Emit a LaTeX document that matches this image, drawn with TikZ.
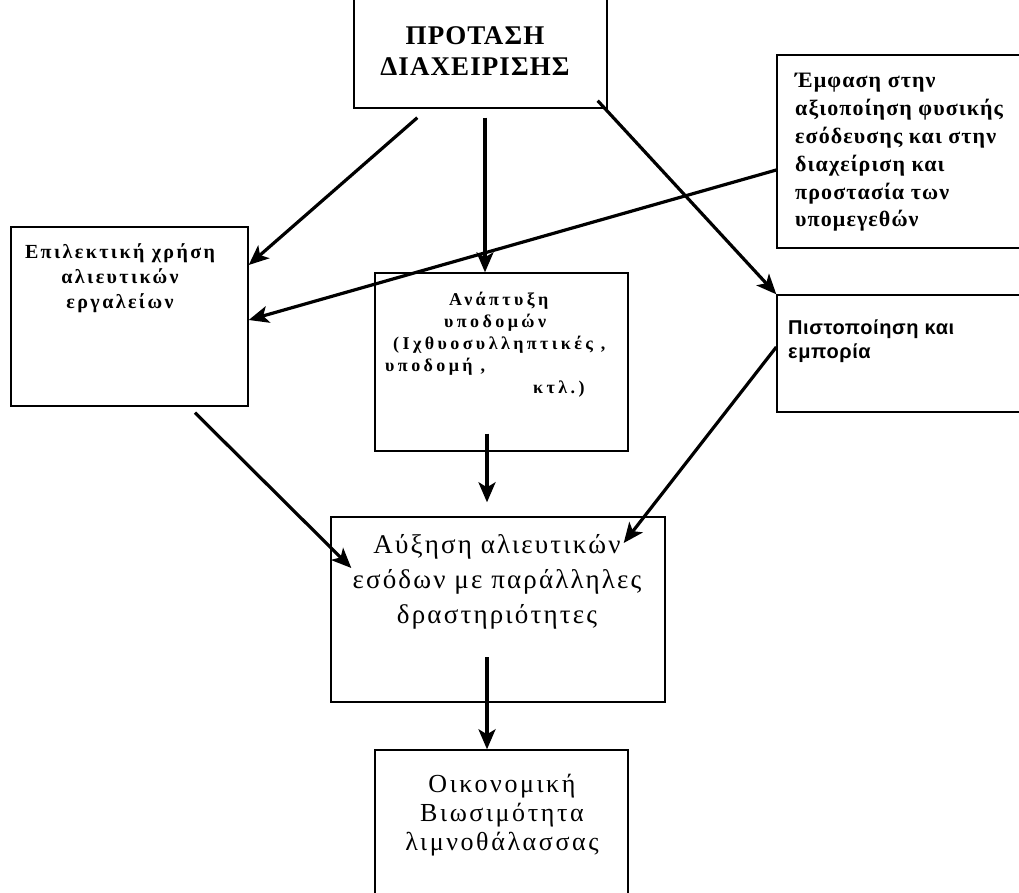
\documentclass[tikz,border=0pt]{standalone}
\usepackage{fontspec}
\setmainfont{Liberation Serif}
\newfontfamily\grsans{Liberation Sans}
\usetikzlibrary{arrows.meta,calc}
\begin{document}
\begin{tikzpicture}[x=1pt,y=-1pt,
  box/.style={draw, line width=1.4pt, rectangle, inner sep=0pt},
  arr/.style={line width=3.2pt, -{Stealth[length=20pt,width=17pt,inset=5pt]}},
  lbl/.style={inner sep=0pt, align=center}]
\useasboundingbox (0,0) rectangle (1019,893);
\clip (0,0) rectangle (1019,893);
% boxes
\node[box, minimum width=253pt, minimum height=168pt] (top) at (480.5,24) {};
\node[box, minimum width=263pt, minimum height=193pt] (emf) at (908.5,151.5) {};
\node[box, minimum width=237pt, minimum height=179pt] (left) at (129.5,316.5) {};
\node[box, minimum width=253pt, minimum height=178pt] (anap) at (501.5,362) {};
\node[box, minimum width=263pt, minimum height=117pt] (pist) at (908.5,353.5) {};
\node[box, minimum width=334pt, minimum height=185pt] (afx) at (498,609.5) {};
\node[box, minimum width=253pt, minimum height=170pt] (oik) at (501.5,835) {};
% texts
\node[lbl, font=\fontsize{27}{31}\selectfont\bfseries\addfontfeatures{LetterSpace=4}] (ttop) at (475,51.5) {ΠΡΟΤΑΣΗ\\ΔΙΑΧΕΙΡΙΣΗΣ};
\node[lbl, align=left, anchor=west, font=\fontsize{22}{27.8}\selectfont\bfseries\addfontfeatures{LetterSpace=5}] (temf) at (795,152.5)
  {Έμφαση στην\\αξιοποίηση φυσικής\\εσόδευσης και στην\\διαχείριση και\\προστασία των\\υπομεγεθών};
\node[lbl, font=\fontsize{20}{25}\selectfont\bfseries\addfontfeatures{LetterSpace=12}] (tleft) at (120,278.6)
  {Επιλεκτική χρήση\\αλιευτικών\\εργαλείων};
\node[lbl, align=left, anchor=west, font=\fontsize{18}{22}\selectfont\bfseries\addfontfeatures{LetterSpace=19}] (tanap) at (385,345)
  {\hspace*{64pt}Ανάπτυξη\\\hspace*{59pt}υποδομών\\\hspace*{8pt}(Ιχθυοσυλληπτικές ,\\υποδομή ,\\\hspace*{148pt}κτλ.)};
\node[lbl, align=left, anchor=west, font=\grsans\fontsize{20}{24}\selectfont\bfseries\addfontfeatures{LetterSpace=3}] (tpist) at (788,341)
  {Πιστοποίηση και\\εμπορία};
\node[lbl, font=\fontsize{27}{35}\selectfont\addfontfeatures{LetterSpace=8}] (tafx) at (497,582)
  {Αύξηση αλιευτικών\\εσόδων με παράλληλες\\δραστηριότητες};
\node[lbl, font=\fontsize{26}{29}\selectfont\addfontfeatures{LetterSpace=10}] (toik) at (502,815)
  {Οικονομική\\Βιωσιμότητα\\λιμνοθάλασσας};
% arrows
\draw[arr] ([xshift=64pt,yshift=-9pt]top.south west) -- ([yshift=51.5pt]left.east);
\draw[arr] ([xshift=4.5pt,yshift=-9pt]top.south) -- ([xshift=-16.5pt]anap.north);
\draw[arr] ([xshift=-10pt,yshift=8pt]top.south east) -- (pist.north west);
\draw[arr] ([yshift=-18.5pt]emf.west) -- ([yshift=-3.5pt]left.east);
\draw[arr] ([xshift=65.5pt,yshift=-6pt]left.south) -- ([xshift=21pt,yshift=41.5pt]afx.west);
\draw[arr] ([xshift=-14.5pt,yshift=18pt]anap.south) -- ([xshift=-11pt,yshift=14pt]afx.north);
\draw[arr] ([yshift=6.5pt]pist.west) -- ([xshift=-42pt,yshift=66.5pt]afx.east);
\draw[arr] ([xshift=-11pt,yshift=-47.5pt]afx.center) -- ([xshift=-14.5pt]oik.north);
\end{tikzpicture}
\end{document}
